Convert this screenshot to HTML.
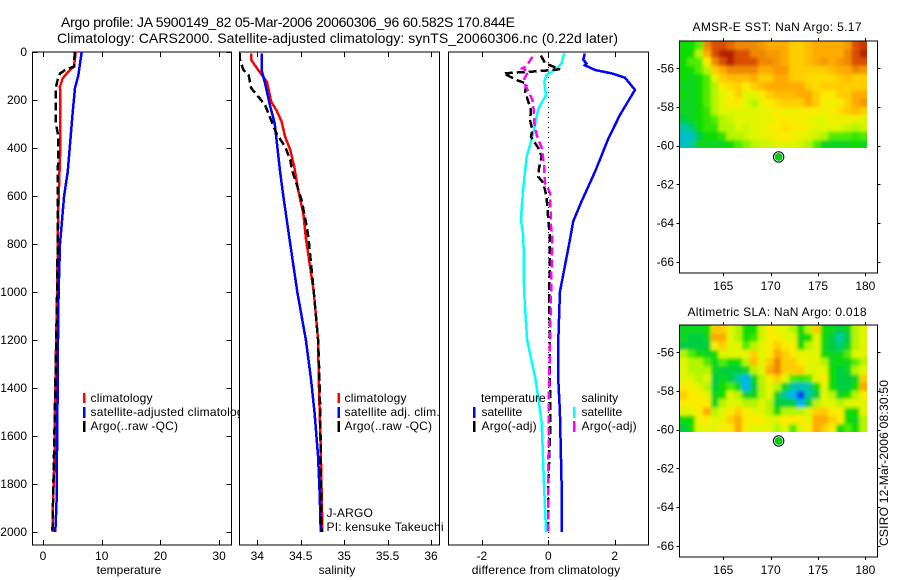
<!DOCTYPE html>
<html lang="en">
<head>
<meta charset="utf-8">
<title>Argo profile 5900149_82</title>
<style>
html,body{margin:0;padding:0;background:#fff;}
svg{display:block;font-family:"Liberation Sans",Arial,sans-serif;font-size:12px;fill:#000;}
.frame{fill:#fff;stroke:#000;stroke-width:1;shape-rendering:crispEdges;}
.nofill{fill:none;stroke:#000;stroke-width:1;shape-rendering:crispEdges;}
.tick{stroke:#000;stroke-width:1;shape-rendering:crispEdges;}
.curve{fill:none;shape-rendering:crispEdges;stroke-linejoin:miter;}
.swatch{shape-rendering:crispEdges;}
.cell{shape-rendering:crispEdges;}
.wide{letter-spacing:0.2px;}
</style>
</head>
<body>
<svg id="figure" xmlns="http://www.w3.org/2000/svg" width="900" height="580" viewBox="0 0 900 580">
  <defs>
    <clipPath id="clip-temp"><rect x="32.5" y="52" width="199" height="493"/></clipPath>
    <clipPath id="clip-sal"><rect x="239.5" y="52" width="200" height="493"/></clipPath>
    <clipPath id="clip-diff"><rect x="448.5" y="52" width="200" height="493"/></clipPath>
    <clipPath id="clip-sst"><rect x="679.5" y="41" width="187.5" height="107"/></clipPath>
    <clipPath id="clip-sla"><rect x="679.5" y="325" width="187.5" height="107"/></clipPath>
    <filter id="soften" filterUnits="userSpaceOnUse" x="660" y="20" width="230" height="430"><feGaussianBlur stdDeviation="1.5"/></filter>
  </defs>

  <text x="61" y="27" font-size="14" textLength="454" lengthAdjust="spacing">Argo profile: JA 5900149_82 05-Mar-2006 20060306_96 60.582S 170.844E</text>
  <text x="57" y="43" font-size="14" textLength="561" lengthAdjust="spacing">Climatology: CARS2000. Satellite-adjusted climatology: synTS_20060306.nc (0.22d later)</text>

  <!-- Temperature panel -->
  <g>
    <rect class="frame" x="32.5" y="52" width="199" height="493"/>
    <g id="temp-ticks"></g>
    <g id="temp-marks" clip-path="url(#clip-temp)"></g>
    <g>
      <rect class="swatch" x="83" y="393" width="2.5" height="10" fill="#ff0000"/>
      <rect class="swatch" x="83" y="407" width="2.5" height="11" fill="#0000ff"/>
      <rect class="swatch" x="83" y="421" width="2.5" height="11" fill="#000"/>
      <text class="wide" x="90.5" y="402">climatology</text>
      <text class="wide" x="90.5" y="416">satellite-adjusted climatology</text>
      <text class="wide" x="90.5" y="430">Argo(..raw -QC)</text>
    </g>
    <text x="129" y="574" text-anchor="middle">temperature</text>
  </g>

  <!-- Salinity panel -->
  <g>
    <rect class="frame" x="239.5" y="52" width="200" height="493"/>
    <g id="sal-ticks"></g>
    <g id="sal-marks" clip-path="url(#clip-sal)"></g>
    <g>
      <rect class="swatch" x="337.5" y="393" width="2.5" height="10" fill="#ff0000"/>
      <rect class="swatch" x="337.5" y="407" width="2.5" height="11" fill="#0000ff"/>
      <rect class="swatch" x="337.5" y="421" width="2.5" height="11" fill="#000"/>
      <text class="wide" x="344.5" y="402">climatology</text>
      <text class="wide" x="344.5" y="416">satellite adj. clim.</text>
      <text class="wide" x="344.5" y="430">Argo(..raw -QC)</text>
    </g>
    <text class="wide" x="326.5" y="517">J-ARGO</text>
    <text class="wide" x="326.5" y="531">PI: kensuke Takeuchi</text>
    <text x="337" y="574" text-anchor="middle">salinity</text>
  </g>

  <!-- Difference panel -->
  <g>
    <rect class="frame" x="448.5" y="52" width="200" height="493"/>
    <g id="diff-ticks"></g>
    <g id="diff-marks" clip-path="url(#clip-diff)"></g>
    <g>
      <text x="481" y="402">temperature</text>
      <text x="581.5" y="402">salinity</text>
      <rect class="swatch" x="473" y="407" width="2.5" height="11" fill="#0000ff"/>
      <rect class="swatch" x="473" y="421" width="2.5" height="11" fill="#000"/>
      <rect class="swatch" x="573" y="407" width="2.5" height="11" fill="#00ffff"/>
      <rect class="swatch" x="573" y="421" width="2.5" height="11" fill="#ff00ff"/>
      <text x="481.5" y="416">satellite</text>
      <text class="wide" x="481.5" y="430">Argo(-adj)</text>
      <text x="581.5" y="416">satellite</text>
      <text class="wide" x="581.5" y="430">Argo(-adj)</text>
    </g>
    <text class="wide" x="546" y="574" text-anchor="middle">difference from climatology</text>
  </g>

  <!-- SST map -->
  <g>
    <text x="692.5" y="31" textLength="169" lengthAdjust="spacing">AMSR-E SST: NaN Argo: 5.17</text>
    <rect class="frame" x="679.5" y="41" width="198" height="232"/>
    <g clip-path="url(#clip-sst)">
      <g id="sst-base"></g>
      <g id="sst-soft" filter="url(#soften)"></g>
    </g>
    <rect class="nofill" x="679.5" y="41" width="198" height="232"/>
    <g id="sst-ticks"></g>
    <circle id="sst-float-ring" r="5.2" fill="#fff" stroke="#000" stroke-width="1"/>
    <circle id="sst-float-dot" r="4" fill="#00d010"/>
  </g>

  <!-- SLA map -->
  <g>
    <text x="687.5" y="316" textLength="179" lengthAdjust="spacing">Altimetric SLA: NaN Argo: 0.018</text>
    <rect class="frame" x="679.5" y="325" width="198" height="232"/>
    <g clip-path="url(#clip-sla)">
      <g id="sla-base"></g>
      <g id="sla-soft" filter="url(#soften)"></g>
    </g>
    <rect class="nofill" x="679.5" y="325" width="198" height="232"/>
    <g id="sla-ticks"></g>
    <circle id="sla-float-ring" r="5.2" fill="#fff" stroke="#000" stroke-width="1"/>
    <circle id="sla-float-dot" r="4" fill="#00d010"/>
  </g>

  <text transform="translate(888 546) rotate(-90)" textLength="166" lengthAdjust="spacing">CSIRO 12-Mar-2006 08:30:50</text>
</svg>

<script>
// ---------- Depth-profile axes ----------
var depthTicks = [0, 200, 400, 600, 800, 1000, 1200, 1400, 1600, 1800, 2000];
var tempTicks = [0, 10, 20, 30];
var salTicks = [34, 34.5, 35, 35.5, 36];
var salTickLabels = ['34', '34.5', '35', '35.5', '36'];
var diffTicks = [-2, 0, 2];

// ---------- Temperature panel ----------
var tempClimDepth = [0, 60, 82, 110, 144, 400, 600, 800, 1000, 1200, 1400, 1700, 1880, 2000];
var tempClimValue = [5.57, 5.28, 4.3, 3.35, 2.9, 2.95, 2.67, 2.5, 2.4, 2.25, 2.1, 1.95, 1.7, 1.65];
var tempSatDepth = [0, 100, 150, 250, 400, 500, 600, 800, 1000, 1200, 1400, 1540, 1880, 2000];
var tempSatValue = [6.6, 6.0, 5.45, 5.06, 4.55, 4.2, 3.6, 2.9, 2.65, 2.55, 2.5, 2.44, 2.3, 2.1];
var tempArgoDepth = [0, 60, 75, 90, 110, 150, 300, 350, 600, 800, 1000, 1200, 1400, 1700, 1880, 2000];
var tempArgoValue = [5.4, 5.3, 3.75, 2.9, 2.55, 2.16, 2.2, 2.6, 2.5, 2.5, 2.4, 2.25, 2.1, 1.85, 1.7, 1.6];

// ---------- Salinity panel ----------
var salClimDepth = [6, 33, 75, 124, 207, 242, 290, 353, 408, 485, 575, 672, 776, 1000, 1200, 1400, 1650, 2000];
var salClimValue = [33.93, 33.93, 34.01, 34.11, 34.16, 34.22, 34.28, 34.32, 34.38, 34.43, 34.47, 34.53, 34.56, 34.65, 34.7, 34.71, 34.73, 34.75];
var salSatDepth = [6, 75, 131, 228, 297, 394, 492, 603, 700, 776, 1000, 1200, 1367, 1505, 1686, 1854, 2000];
var salSatValue = [34.05, 34.05, 34.09, 34.15, 34.2, 34.23, 34.26, 34.3, 34.34, 34.37, 34.46, 34.56, 34.62, 34.66, 34.7, 34.72, 34.73];
var salArgoDepth = [5, 30, 75, 96, 151, 186, 221, 275, 339, 394, 450, 492, 547, 617, 728, 776, 1000, 1200, 1400, 1650, 2000];
var salArgoValue = [33.8, 33.8, 33.84, 33.9, 33.93, 34.01, 34.09, 34.15, 34.22, 34.32, 34.38, 34.4, 34.45, 34.51, 34.57, 34.59, 34.65, 34.7, 34.72, 34.73, 34.74];

// ---------- Difference panel ----------
var diffTempSatDepth = [6, 33, 47, 55, 75, 89, 107, 158, 262, 360, 498, 623, 706, 783, 1000, 1200, 1367, 1500, 1800, 2000];
var diffTempSatValue = [1.1, 1.05, 1.15, 1.1, 1.41, 1.91, 2.31, 2.61, 2.16, 1.81, 1.41, 1.0, 0.75, 0.65, 0.35, 0.3, 0.3, 0.35, 0.4, 0.4];
var diffSalSatDepth = [6, 47, 75, 96, 124, 180, 236, 290, 353, 436, 533, 644, 700, 776, 1000, 1200, 1367, 1545, 1800, 2000];
var diffSalSatValue = [0.48, 0.4, 0.2, -0.05, -0.12, -0.07, -0.3, -0.38, -0.48, -0.65, -0.73, -0.8, -0.82, -0.75, -0.73, -0.64, -0.38, -0.2, -0.13, -0.07];
var diffTempArgoDepth = [15, 47, 58, 72, 80, 89, 117, 132, 165, 208, 242, 283, 325, 353, 400, 436, 485, 520, 546, 603, 700, 776, 1000, 1400, 1600, 1800, 2000];
var diffTempArgoValue = [-0.22, -0.1, 0.1, 0.35, -0.3, -1.35, -0.95, -0.65, -0.7, -0.6, -0.52, -0.55, -0.48, -0.52, -0.3, -0.2, -0.28, -0.3, -0.15, -0.05, 0, 0.05, 0.03, 0.05, 0.05, 0, 0];
var diffSalArgoDepth = [20, 58, 68, 82, 110, 138, 198, 242, 297, 346, 400, 470, 546, 587, 725, 776, 1000, 1200, 1400, 1800, 2000];
var diffSalArgoValue = [-0.48, -0.65, -0.78, -0.6, -0.72, -0.7, -0.48, -0.44, -0.42, -0.35, -0.2, -0.13, -0.1, 0.05, 0.08, 0.12, 0.08, 0.05, 0.02, 0, 0];
var zeroLineDepth = [0, 2054];
var zeroLineValue = [0, 0];

// ---------- Map axes ----------
var lonTicks = [165, 170, 175, 180];
var latTicks = [-56, -58, -60, -62, -64, -66];
var floatLon = [170.844];
var floatLat = [-60.582];

// ---------- SST levels on the colour scale (rows north to south) ----------
var sstRows = [
  [1, 1, 2, 8, 9, 9, 8.5, 8, 8, 8, 7.5, 7, 7, 7, 6, 6, 6.5, 7, 7, 7, 7, 7.5, 9, 9.5],
  [1, 1, 3, 7, 9, 10, 10, 9, 9, 8, 8, 7.5, 7.5, 7, 6, 6, 6.5, 7, 7, 7, 7, 8, 9, 10],
  [1, 2, 2, 5, 8, 9, 10, 9, 9, 9, 8, 8, 7.5, 7, 6, 6, 6.5, 7, 7.5, 7, 7.5, 8, 9, 9],
  [1, 1, 2, 3, 6, 7, 8, 8, 8, 8, 7, 7, 7.5, 7.5, 6, 6, 6, 6, 6, 6.5, 7, 7, 8, 7.5],
  [1, 0.5, 1, 2, 4, 6, 6.5, 6.5, 6.5, 7, 6, 6, 7, 7, 6, 6, 5.5, 5.5, 5.5, 5.5, 6, 6.5, 6, 6],
  [0.5, 0.5, 1, 2, 3, 5, 5.5, 6, 5, 6, 6.5, 7, 7, 7, 7, 7, 6, 5.5, 6, 6, 6, 6, 6, 6],
  [1, 0.5, 1, 2, 3, 4, 5, 6, 4, 4, 5, 6, 6.5, 6.5, 6.5, 7, 7, 6, 5, 5, 6, 6, 7, 7],
  [0.5, 0.5, 1, 2, 3, 4, 5, 5, 4, 3, 4.5, 5, 5.5, 6, 6, 6, 7, 6, 5, 4.5, 5, 6, 7, 7.5],
  [0.5, 0.5, 1, 1.5, 3, 4, 4, 4, 4, 4, 4, 4.5, 5, 4.5, 4.5, 5, 5, 5, 4.5, 5, 5.5, 6, 6.5, 6],
  [0, 0.5, 1, 1.5, 2, 3, 3.5, 4, 4, 4, 4, 4, 5, 5, 5, 4.5, 4.5, 4, 4, 4.5, 4.5, 4.5, 4.5, 4],
  [-1, -0.5, 1, 1.5, 1.5, 3, 3, 4, 3.5, 4, 4, 5, 5, 5.5, 5, 5, 4.5, 4, 4, 4, 4, 3.5, 3, 3.5],
  [-1.5, -1.5, 0, 1, 1, 1.5, 3, 3, 3.5, 4, 4, 4.5, 5, 5, 5, 4.5, 4, 3.5, 3, 2, 2, 2, 1.5, 2],
  [-1.5, -1, 0.5, 0.5, 0.5, 0.5, 1, 2, 2.5, 3, 3.5, 3.5, 4, 4, 4, 3.5, 3, 2, 0.5, 0.5, 0.5, 0.5, 1, 0.5]
];

// ---------- SLA levels on the colour scale (rows north to south) ----------
var slaRows = [
  [0.5, 0.5, 0.5, 1, 6, 6, 4, 3, 1, 1, 3.5, 5, 4, 4, 3, 1, 3, 6, 1, 0.5, 0, 0.5, 3, 4],
  [0.5, 0, 0, 0.5, 7, 7, 4, 3, 1, 1.5, 3.5, 5, 5, 4, 4, 0.5, 1, 4, 1, 0, -1, 0, 3, 4],
  [0, 0, 0, 0, 5, 6, 4, 4, 2, 3, 4, 5, 6, 5, 5, 1, 3, 4, 0.5, 0, -0.5, 0.5, 3, 4],
  [3, 2, 1, 0.5, 1, 4, 4, 4, 4.5, 6, 4, 5, 7, 6, 5, 4, 4, 4, 1, 0.5, 0.5, 2, 4, 4],
  [4, 3, 3, 2, 0.5, 2, 1, 1, 3, 6.5, 4, 6, 8, 6, 6, 5, 4, 4, 3, 0.5, 1, 0.5, 2, 3],
  [4, 3, 3, 3, 0.5, 0, 0, 0, 0.5, 3, 4, 7, 8, 6, 6, 6, 4, 4, 4, 1, 0, 0.5, 3, 4],
  [4, 4, 3, 4, 0, 0.5, 0, -1, -2, 0.5, 3, 5, 6, 4, 2, 1.5, 2, 4, 5, 1, 0, 0, 0.5, 6],
  [5, 4.5, 4, 3, 0, 1, 2, 0.5, -2, 0, 3, 4, 3, 0.5, -1, -1.5, -1, 1, 4, 1, 0, 0, 1, 7],
  [6, 5, 5, 4, 0.5, 1, 4, 3, 0.5, 0.5, 3, 4, 0.5, -1, -2, -3, -1, 0, 4, 3, 0.5, 1, 3, 5],
  [5, 5, 5, 5, 0.5, 3, 4, 4, 3, 3, 4, 3, 0, 0, 0, -2, 0, 3, 4, 4, 3, 4, 4, 4],
  [4, 4, 5, 7, 3, 4, 5, 6, 5, 4, 4, 3, 1, 3, 3, 3, 4, 6, 6, 5, 5, 1, 1, 4],
  [1, 1, 5, 5, 4, 4, 6, 7, 5, 5, 5, 4, 4, 5, 5, 5, 4, 7, 7, 6, 5, 1, 0.5, 3],
  [0, 1, 4, 4, 4, 5, 5, 7, 5, 4, 4, 4, 3, 4, 2, 4, 5, 7, 6, 5, 1, 2, 1, 3]
];

// ---------- Colour scale ----------
var colorLevels = [-3, -2, -1, 0, 1, 2, 3, 4, 5, 6, 7, 8, 9, 10];
var colorStops = [
  [0, 64, 240], [0, 180, 240], [0, 200, 160], [0, 205, 64], [16, 220, 0], [80, 236, 0],
  [180, 245, 0], [225, 245, 0], [250, 235, 0], [255, 205, 0], [255, 170, 0], [238, 136, 0],
  [216, 80, 0], [184, 32, 0]
];

function levelColor(v) {
  var i = 0;
  while (i < colorLevels.length - 2 && v > colorLevels[i + 1]) i++;
  var t = (v - colorLevels[i]) / (colorLevels[i + 1] - colorLevels[i]);
  t = Math.max(0, Math.min(1, t));
  var a = colorStops[i], b = colorStops[i + 1];
  return 'rgb(' + Math.round(a[0] + (b[0] - a[0]) * t) + ',' +
    Math.round(a[1] + (b[1] - a[1]) * t) + ',' +
    Math.round(a[2] + (b[2] - a[2]) * t) + ')';
}

var SVGNS = 'http://www.w3.org/2000/svg';
function mk(parent, tag, attrs) {
  var el = document.createElementNS(SVGNS, tag);
  for (var k in attrs) el.setAttribute(k, attrs[k]);
  parent.appendChild(el);
  return el;
}

// Axis functions
function depthY(d) { return 52 + 0.24 * d; }
function tempX(v) { return 43 + 5.87 * v; }
function salX(v) { return 257.3 + 86.85 * (v - 34); }
function diffX(v) { return 548.3 + 33.2 * v; }
function lonX(v) { return 723.3 + 9.47 * (v - 165); }
function latY(v, top) { return top + 27.3 + 19.35 * (-56 - v); }

function drawCurve(groupId, xf, depths, values, color, width, dash, name) {
  var pts = [];
  for (var i = 0; i < depths.length; i++) {
    pts.push(xf(values[i]).toFixed(1) + ',' + depthY(depths[i]).toFixed(1));
  }
  var line = mk(document.getElementById(groupId), 'polyline', {
    'class': 'curve', points: pts.join(' '), stroke: color, 'stroke-width': width
  });
  if (dash) line.setAttribute('stroke-dasharray', dash);
  
  
  return line;
}

function drawXTicks(groupId, xf, ticks, labels) {
  var g = document.getElementById(groupId);
  ticks.forEach(function (t, i) {
    var x = Math.round(xf(t)) + 0.5;
    var top = mk(g, 'line', { 'class': 'tick', x1: x, x2: x, y1: 52, y2: 57 });
    
    
    var bottom = mk(g, 'line', { 'class': 'tick', x1: x, x2: x, y1: 540, y2: 545 });
    
    
    var label = mk(g, 'text', { x: xf(t), y: 560, 'text-anchor': 'middle' });
    label.textContent = labels[i];
    
    
  });
}

function drawDepthTicks(groupId) {
  var g = document.getElementById(groupId);
  depthTicks.forEach(function (d) {
    var y = Math.round(depthY(d)) + 0.5;
    var left = mk(g, 'line', { 'class': 'tick', x1: 32.5, x2: 37.5, y1: y, y2: y });
    
    
    var right = mk(g, 'line', { 'class': 'tick', x1: 226.5, x2: 231.5, y1: y, y2: y });
    
    
    var label = mk(g, 'text', { x: 27, y: depthY(d) + 4, 'text-anchor': 'end' });
    label.textContent = String(d);
    
    
  });
}

function drawMapTicks(groupId, top) {
  var g = document.getElementById(groupId);
  var bottom = top + 232;
  lonTicks.forEach(function (lon) {
    var x = Math.round(lonX(lon)) + 0.5;
    var up = mk(g, 'line', { 'class': 'tick', x1: x, x2: x, y1: top - 3, y2: top });
    
    
    var down = mk(g, 'line', { 'class': 'tick', x1: x, x2: x, y1: bottom, y2: bottom + 3 });
    
    
    var label = mk(g, 'text', { x: lonX(lon), y: bottom + 17, 'text-anchor': 'middle' });
    label.textContent = String(lon);
    
    
  });
  latTicks.forEach(function (lat) {
    var y = Math.round(latY(lat, top)) + 0.5;
    var west = mk(g, 'line', { 'class': 'tick', x1: 676.5, x2: 679.5, y1: y, y2: y });
    
    
    var east = mk(g, 'line', { 'class': 'tick', x1: 877.5, x2: 880.5, y1: y, y2: y });
    
    
    var label = mk(g, 'text', { x: 674, y: latY(lat, top) + 4, 'text-anchor': 'end' });
    label.textContent = String(lat);
    
    
  });
}

function drawCells(baseId, softId, rows, top) {
  var lonMin = 160.38, lonMax = 180.2, latMax = -54.59, latMin = -60.13;
  var nRows = rows.length, nCols = rows[0].length;
  var dLon = (lonMax - lonMin) / nCols, dLat = (latMax - latMin) / nRows;
  [baseId, softId].forEach(function (id) {
    var g = document.getElementById(id);
    rows.forEach(function (row, r) {
      row.forEach(function (v, c) {
        var x0 = lonX(lonMin + c * dLon), x1 = lonX(lonMin + (c + 1) * dLon);
        var y0 = latY(latMax - r * dLat, top), y1 = latY(latMax - (r + 1) * dLat, top);
        var cell = mk(g, 'rect', {
          'class': 'cell', x: x0, y: y0, width: x1 - x0 + 0.6, height: y1 - y0 + 0.6, fill: levelColor(v)
        });
        
        
      });
    });
  });
}

function placeFloat(ringId, dotId, top) {
  [ringId, dotId].forEach(function (id) {
    var c = document.getElementById(id);
    c.setAttribute('cx', lonX(floatLon[0]));
    c.setAttribute('cy', latY(floatLat[0], top));
  });
}

// Temperature
drawDepthTicks('temp-ticks');
drawXTicks('temp-ticks', tempX, tempTicks, tempTicks.map(String));
drawCurve('temp-marks', tempX, tempClimDepth, tempClimValue, '#ff0000', 2.5, null, 'temperature-climatology-line');
drawCurve('temp-marks', tempX, tempSatDepth, tempSatValue, '#0000ff', 2.5, null, 'temperature-satellite-line');
drawCurve('temp-marks', tempX, tempArgoDepth, tempArgoValue, '#000000', 2.5, '8 4', 'temperature-argo-line');

// Salinity
drawXTicks('sal-ticks', salX, salTicks, salTickLabels);
drawCurve('sal-marks', salX, salClimDepth, salClimValue, '#ff0000', 2.5, null, 'salinity-climatology-line');
drawCurve('sal-marks', salX, salSatDepth, salSatValue, '#0000ff', 2.5, null, 'salinity-satellite-line');
drawCurve('sal-marks', salX, salArgoDepth, salArgoValue, '#000000', 2.5, '8 4', 'salinity-argo-line');

// Difference
drawXTicks('diff-ticks', diffX, diffTicks, diffTicks.map(String));
drawCurve('diff-marks', diffX, zeroLineDepth, zeroLineValue, '#000000', 1, '1 4', 'zero-reference-line');
drawCurve('diff-marks', diffX, diffTempSatDepth, diffTempSatValue, '#0000ff', 2.5, null, 'difference-temperature-satellite-line');
drawCurve('diff-marks', diffX, diffSalSatDepth, diffSalSatValue, '#00ffff', 2.5, null, 'difference-salinity-satellite-line');
drawCurve('diff-marks', diffX, diffTempArgoDepth, diffTempArgoValue, '#000000', 2.5, '8 4', 'difference-temperature-argo-line');
drawCurve('diff-marks', diffX, diffSalArgoDepth, diffSalArgoValue, '#ff00ff', 2.5, '8 4', 'difference-salinity-argo-line');

// Maps
drawCells('sst-base', 'sst-soft', sstRows, 41);
drawCells('sla-base', 'sla-soft', slaRows, 325);
drawMapTicks('sst-ticks', 41);
drawMapTicks('sla-ticks', 325);
placeFloat('sst-float-ring', 'sst-float-dot', 41);
placeFloat('sla-float-ring', 'sla-float-dot', 325);
</script>
</body>
</html>
